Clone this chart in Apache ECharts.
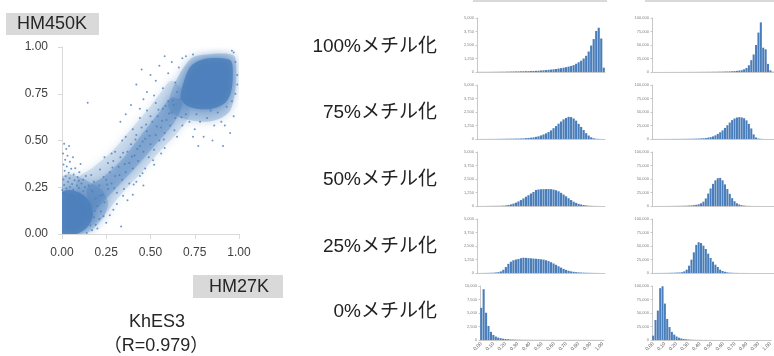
<!DOCTYPE html>
<html>
<head>
<meta charset="utf-8">
<script src="https://cdn.jsdelivr.net/npm/echarts@6/dist/echarts.min.js"></script>
<style>
html, body { margin: 0; padding: 0; background: #fff; }
#main { width: 774px; height: 356px; }
</style>
</head>
<body>
<div id="main"></div>
<script>
// ビン（0.00〜1.00, 0.02刻み）
const bins = ['0.00','0.02','0.04','0.06','0.08','0.10','0.12','0.14','0.16','0.18',
  '0.20','0.22','0.24','0.26','0.28','0.30','0.32','0.34','0.36','0.38',
  '0.40','0.42','0.44','0.46','0.48','0.50','0.52','0.54','0.56','0.58',
  '0.60','0.62','0.64','0.66','0.68','0.70','0.72','0.74','0.76','0.78',
  '0.80','0.82','0.84','0.86','0.88','0.90','0.92','0.94','0.96','0.98','1.00'];

const rowLabels = ['100%メチル化', '75%メチル化', '50%メチル化', '25%メチル化', '0%メチル化'];

// HM27K ヒストグラム（左列）
const hm27k100 = [10,12,14,15,16,18,20,22,25,28, 30,35,40,45,50,55,60,65,70,75,
  80,90,100,110,120,140,160,180,200,225, 250,280,320,360,400,450,500,560,640,760,
  900,1050,1250,1500,1900,2450,3050,3800,4100,3100,400];
const hm27k75 = [5,5,5,5,8,8,10,10,15,20, 20,25,30,30,35,40,45,50,60,80,
  100,120,150,200,250,330,420,520,640,800, 1000,1200,1420,1620,1820,1950,2050,2030,1900,1700,
  1400,1120,830,540,320,160,70,25,10,5,0];
const hm27k50 = [5,5,5,8,10,12,15,18,20,25, 35,55,90,150,220,310,420,550,700,860,
  1000,1160,1300,1480,1530,1550,1560,1570,1570,1560, 1520,1460,1360,1220,1060,900,720,550,400,290,
  200,140,90,55,30,18,10,6,4,2,1];
const hm27k25 = [5,5,8,10,15,20,30,50,80,150, 300,550,850,1050,1180,1250,1300,1370,1420,1400,
  1380,1360,1340,1320,1300,1270,1240,1180,1100,1000, 880,760,620,500,380,290,210,150,110,80,
  60,45,35,25,20,15,10,8,5,3,2];
const hm27k0 = [5950,9400,5050,2600,1500,950,640,450,330,240, 180,140,110,90,75,62,52,45,40,35,
  32,30,28,26,25,24,23,22,22,21, 21,20,20,20,20,20,20,20,20,20,
  20,19,19,18,18,18,17,17,16,16,15];

// HM450K ヒストグラム（右列）
const hm450k100 = [60,60,70,70,80,80,90,100,110,120, 130,140,150,160,180,200,220,240,260,290,
  320,350,380,420,460,500,560,620,700,800, 900,1000,1200,1400,1700,2100,2700,3400,5000,7500,
  12500,21900,32500,50000,73000,91900,45000,42000,15000,3000,500];
const hm450k75 = [100,100,100,120,120,150,150,180,200,220, 250,280,300,350,400,450,500,600,750,900,
  1100,1400,1800,2500,3500,4800,6800,9500,12500,16000, 20500,25500,30500,35000,38000,39800,40500,40000,38500,34500,
  28000,19500,8500,2800,900,350,150,80,50,30,20];
const hm450k50 = [50,50,60,60,80,100,120,150,200,250, 300,350,450,550,700,900,1200,1600,2300,3200,
  5000,8000,14000,23000,32500,41000,47500,51500,52000,47500, 40000,31500,22500,14500,8800,5000,2800,1500,800,450,
  250,150,100,60,40,30,20,15,10,10,5];
const hm450k25 = [100,100,120,150,200,250,300,400,500,650, 800,1000,1500,3000,6200,13600,24700,38300,52000,57000,
  55500,50600,44400,35800,27800,21000,15400,11100,6200,3700, 2200,1200,700,450,300,220,160,120,90,70,
  60,50,45,40,35,30,30,25,25,20,20];
const hm450k0 = [8000,37000,54500,96000,99500,67500,39000,24000,15000,10000, 6500,4300,2800,1900,1300,900,650,480,360,280,
  220,180,150,130,110,100,90,80,75,70, 65,60,55,50,50,45,45,40,40,40,
  35,35,30,30,30,25,25,25,20,20,20];

// 散布図: 点が密集している範囲の輪郭（HM27K, HM450K）
const topHalo = [[0.60,0.68],[0.63,0.79],[0.68,0.88],[0.74,0.945],[0.82,0.96],[0.92,0.965],[0.975,0.95],
  [0.985,0.86],[0.975,0.74],[0.95,0.66],[0.90,0.62],[0.82,0.60],[0.72,0.61],[0.65,0.63]];
const topCore = [[0.67,0.73],[0.69,0.82],[0.73,0.90],[0.80,0.935],[0.90,0.94],[0.955,0.925],[0.965,0.85],
  [0.955,0.76],[0.92,0.70],[0.85,0.67],[0.76,0.67],[0.70,0.69]];
const botHalo = [[0,0],[0,0.30],[0.03,0.32],[0.08,0.31],[0.15,0.28],[0.22,0.24],[0.26,0.17],[0.24,0.10],
  [0.20,0.05],[0.15,0.01],[0.08,0]];
const botCore = [[0,0],[0,0.22],[0.04,0.235],[0.10,0.22],[0.15,0.18],[0.175,0.12],[0.165,0.07],[0.13,0.025],[0.08,0]];
const bandOuter = [[0.08,0.28],[0.18,0.36],[0.28,0.44],[0.38,0.55],[0.48,0.66],[0.56,0.76],[0.62,0.82],
  [0.70,0.74],[0.72,0.64],[0.66,0.55],[0.56,0.45],[0.46,0.34],[0.36,0.24],[0.28,0.15],[0.22,0.08],[0.16,0.05]];
const bandInner = [[0.14,0.24],[0.24,0.31],[0.34,0.40],[0.44,0.52],[0.54,0.64],[0.62,0.73],[0.68,0.70],
  [0.63,0.59],[0.53,0.48],[0.43,0.37],[0.33,0.27],[0.24,0.18],[0.18,0.13]];

// 散布図: まばらな点
const sparsePoints = [
  [0.012,0.482],[0.024,0.455],[0.006,0.431],[0.031,0.418],[0.018,0.397],[0.045,0.386],[0.009,0.372],
  [0.027,0.361],[0.052,0.349],[0.015,0.338],[0.038,0.327],[0.066,0.318],[0.021,0.309],[0.043,0.298],
  [0.008,0.291],[0.071,0.287],[0.034,0.279],[0.057,0.268],[0.012,0.262],[0.084,0.259],[0.046,0.251],
  [0.025,0.243],[0.095,0.246],[0.063,0.236],[0.11,0.27],[0.088,0.305],[0.075,0.352],[0.098,0.33],
  [0.062,0.41],[0.04,0.47],[0.145,0.702],[0.12,0.29],[0.135,0.31],[0.105,0.375],
  [0.17,0.02],[0.19,0.05],[0.21,0.08],[0.18,0.09],[0.22,0.12],[0.20,0.15],[0.24,0.17],[0.19,0.19],
  [0.23,0.21],[0.17,0.23],[0.26,0.24],[0.21,0.26],[0.15,0.26],[0.28,0.27],[0.25,0.29],[0.14,0.005],
  [0.16,0.045],[0.20,0.03],[0.25,0.06],[0.27,0.10],[0.29,0.13],[0.31,0.16],[0.334,0.04],[0.12,0.23],
  [0.18,0.28],[0.13,0.25],[0.005,0.22],[0.02,0.215],[0.001,0.235],
  [0.27,0.33],[0.30,0.31],[0.32,0.36],[0.29,0.39],[0.34,0.29],[0.36,0.33],[0.33,0.41],[0.38,0.38],
  [0.37,0.44],[0.40,0.35],[0.41,0.42],[0.39,0.48],[0.43,0.39],[0.44,0.47],[0.42,0.53],[0.46,0.44],
  [0.47,0.51],[0.45,0.57],[0.49,0.41],[0.50,0.48],[0.48,0.55],[0.52,0.45],[0.53,0.53],[0.51,0.60],
  [0.55,0.50],[0.56,0.57],[0.54,0.63],[0.58,0.54],[0.59,0.61],[0.57,0.67],[0.61,0.58],[0.62,0.65],
  [0.60,0.71],[0.64,0.62],[0.63,0.69],[0.35,0.24],[0.38,0.27],[0.44,0.31],[0.47,0.35],[0.52,0.37],
  [0.56,0.43],[0.30,0.44],[0.34,0.50],[0.40,0.56],[0.44,0.62],[0.48,0.66],[0.53,0.70],[0.31,0.22],
  [0.26,0.38],[0.36,0.52],[0.50,0.63],[0.58,0.46],[0.65,0.52],[0.42,0.28],[0.46,0.26],[0.40,0.21],
  [0.37,0.18],[0.28,0.43],[0.24,0.41],
  [0.42,0.80],[0.45,0.88],[0.50,0.85],[0.48,0.76],[0.53,0.82],[0.55,0.90],[0.57,0.78],[0.60,0.86],
  [0.62,0.92],[0.58,0.95],[0.64,0.81],[0.66,0.89],[0.52,0.74],[0.46,0.72],[0.39,0.69],[0.36,0.64],
  [0.33,0.60],[0.44,0.67],[0.68,0.94],[0.70,0.95],[0.74,0.96],[0.67,0.72],[0.65,0.76],
  [0.95,0.54],[0.90,0.60],[0.88,0.65],[0.93,0.68],[0.86,0.58],[0.82,0.62],[0.78,0.60],[0.75,0.56],
  [0.72,0.60],[0.80,0.52],[0.85,0.50],[0.91,0.47],[0.97,0.63],[0.98,0.75],[0.99,0.85],[0.98,0.92],
  [0.97,0.97],[0.96,0.98],[0.76,0.64],[0.84,0.66],[0.70,0.64],[0.68,0.58],[0.74,0.52],[0.77,0.47],
  [0.92,0.58],[0.96,0.71],[0.99,0.80],
  [0.215,0.205],[0.255,0.265],[0.295,0.245],[0.325,0.315],[0.355,0.375],[0.395,0.415],[0.425,0.455],
  [0.455,0.495],[0.495,0.525],[0.535,0.575],[0.565,0.605],[0.605,0.645],[0.625,0.715],[0.585,0.685],
  [0.545,0.665],[0.475,0.585],[0.415,0.505],[0.345,0.435],[0.285,0.355],[0.235,0.305],[0.345,0.205],
  [0.405,0.265],[0.455,0.325],[0.515,0.395],[0.575,0.505],[0.635,0.555],[0.675,0.625],[0.165,0.315],
  [0.095,0.285],[0.215,0.345],[0.055,0.205],[0.185,0.125],[0.235,0.095]
];

const BLUE = '#4a7ebb';
const AXIS_GREY = '#c8c8c8';
const LATIN = '"Liberation Sans", Arial, "Noto Sans CJK JP", sans-serif';

const chart = echarts.init(document.getElementById('main'));

const grids = [];
const xAxes = [];
const yAxes = [];
const series = [];

// 散布図のグリッド
grids.push({ left: 62, top: 47, width: 177, height: 187 });
xAxes.push({
  type: 'value', gridIndex: 0, min: 0, max: 1, interval: 0.25,
  axisLine: { lineStyle: { color: '#d9d9d9' } },
  axisTick: { show: true, length: 5, lineStyle: { color: '#d9d9d9' } },
  splitLine: { show: false },
  axisLabel: { fontSize: 12, color: '#404040', margin: 13, fontFamily: LATIN,
    formatter: v => v.toFixed(2) }
});
yAxes.push({
  type: 'value', gridIndex: 0, min: 0, max: 1, interval: 0.25,
  axisLine: { show: true, lineStyle: { color: '#d9d9d9' } },
  axisTick: { show: true, length: 4, lineStyle: { color: '#d9d9d9' } },
  splitLine: { show: false },
  axisLabel: { fontSize: 12, color: '#404040', margin: 14, fontFamily: LATIN,
    formatter: v => v.toFixed(2) }
});

// 密集部分は輪郭をぼかした多角形で表す
function blob(pts, opacity, blur) {
  return {
    type: 'custom', xAxisIndex: 0, yAxisIndex: 0, data: pts, clip: true, silent: true,
    renderItem: function (params, api) {
      if (params.dataIndex !== 0) return null;
      const points = pts.map(p => api.coord(p));
      return {
        type: 'polygon',
        shape: { points: points, smooth: 0.3 },
        style: { fill: BLUE, opacity: opacity, shadowBlur: blur, shadowColor: BLUE }
      };
    }
  };
}
series.push(blob(bandOuter, 0.18, 8));
series.push(blob(bandInner, 0.34, 6));
series.push(blob(topHalo, 0.3, 10));
series.push(blob(botHalo, 0.3, 10));
series.push(blob(topCore, 0.82, 9));
series.push(blob(botCore, 0.82, 9));
series.push({
  type: 'scatter', xAxisIndex: 0, yAxisIndex: 0, data: sparsePoints,
  symbolSize: 2, itemStyle: { color: BLUE }, silent: true
});

// ヒストグラムのグリッド
const panelTops = [18, 85, 152, 219, 286];
const columns = [
  { data: [hm27k100, hm27k75, hm27k50, hm27k25, hm27k0], max: [5000, 5000, 5000, 5000, 10000], left: [477, 477, 477, 477, 480], width: [128, 128, 128, 128, 124] },
  { data: [hm450k100, hm450k75, hm450k50, hm450k25, hm450k0], max: [100000, 100000, 100000, 100000, 100000], left: [652, 652, 652, 652, 652], width: [126, 126, 126, 126, 124] }
];

columns.forEach(col => {
  col.data.forEach((values, row) => {
    const idx = grids.length;
    grids.push({ left: col.left[row], top: panelTops[row], width: col.width[row], height: 54 });
    xAxes.push({
      type: 'category', gridIndex: idx, data: bins,
      axisLine: { lineStyle: { color: AXIS_GREY } },
      axisTick: { show: false },
      axisLabel: row === 4
        ? { show: true, interval: 4, rotate: 45, fontSize: 5, color: '#595959', margin: 3, fontFamily: LATIN }
        : { show: false }
    });
    yAxes.push({
      type: 'value', gridIndex: idx, min: 0, max: col.max[row], interval: col.max[row] / 4,
      axisLine: { show: true, lineStyle: { color: AXIS_GREY } },
      axisTick: { show: true, length: 1.5, lineStyle: { color: AXIS_GREY } },
      splitLine: { show: false },
      axisLabel: { fontSize: 4, color: '#7f7f7f', margin: 3, fontFamily: LATIN,
        formatter: v => v.toLocaleString('en-US') }
    });
    series.push({
      type: 'bar', xAxisIndex: idx, yAxisIndex: idx, data: values,
      barCategoryGap: '14%', itemStyle: { color: BLUE }, silent: true
    });
  });
});

// テキストと灰色の見出しボックス
const centered = { fill: '#262626', align: 'center', verticalAlign: 'middle', textAlign: 'center', textVerticalAlign: 'middle' };
const graphic = [
  { type: 'rect', shape: { x: 6, y: 13, width: 93, height: 22 }, style: { fill: '#d9d9d9' } },
  { type: 'text', x: 52, y: 24, style: Object.assign({ text: 'HM450K', font: '18px ' + LATIN }, centered) },
  { type: 'rect', shape: { x: 193, y: 275, width: 90, height: 23 }, style: { fill: '#d9d9d9' } },
  { type: 'text', x: 239, y: 287, style: Object.assign({ text: 'HM27K', font: '18px ' + LATIN }, centered) },
  { type: 'text', x: 157, y: 322, style: Object.assign({ text: 'KhES3', font: '18px ' + LATIN }, centered) },
  { type: 'text', x: 156, y: 346, style: Object.assign({ text: '（R=0.979）', font: '18px ' + LATIN }, centered) },
  { type: 'rect', shape: { x: 473, y: 0, width: 134, height: 2 }, style: { fill: '#d9d9d9' } },
  { type: 'rect', shape: { x: 645, y: 0, width: 129, height: 2 }, style: { fill: '#d9d9d9' } }
];
const labelY = [47, 113, 180, 247, 312];
rowLabels.forEach((t, i) => {
  graphic.push({ type: 'text', x: 437, y: labelY[i], style: { text: t, font: '19px "Liberation Sans", "Noto Sans CJK JP", sans-serif', fill: '#222', align: 'right', verticalAlign: 'middle', textAlign: 'right', textVerticalAlign: 'middle' } });
});

chart.setOption({
  animation: false,
  backgroundColor: '#fff',
  grid: grids,
  xAxis: xAxes,
  yAxis: yAxes,
  series: series,
  graphic: graphic
});
</script>
</body>
</html>
